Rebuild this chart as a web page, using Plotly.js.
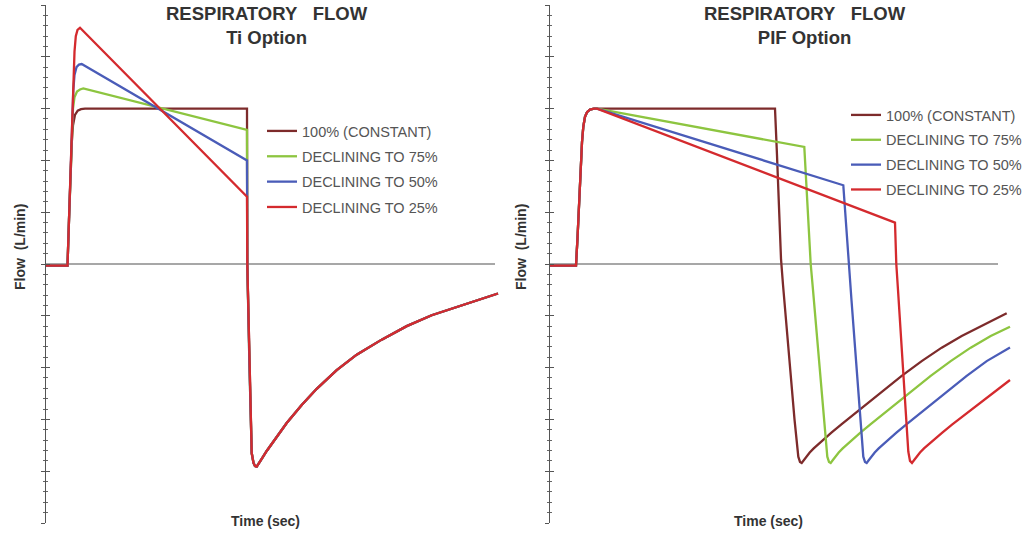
<!DOCTYPE html>
<html>
<head>
<meta charset="utf-8">
<script src="https://cdn.plot.ly/plotly-3.0.1.min.js"></script>
<style>html,body{margin:0;padding:0;background:#fff;}#chart{width:1033px;height:533px;}</style>
</head>
<body>
<div id="chart"></div>
<script>
// ---------- DATA (time in arbitrary sec units, flow in arbitrary L/min units) ----------
const seriesNames = ["100% (CONSTANT)", "DECLINING TO 75%", "DECLINING TO 50%", "DECLINING TO 25%"];
const seriesColors = ["#7d2b2b", "#8dc540", "#4a5cb8", "#d42a2e"];

// Ti Option (left panel): inspiratory parts
const tiConstTime = [0, 0.215, 0.23, 0.245, 0.258, 0.27, 0.29, 0.317, 0.35, 0.39, 2.01];
const tiConstFlow = [-0.03, -0.03, 0.85, 1.75, 2.35, 2.68, 2.88, 2.96, 2.99, 3.0, 3.0];
const ti75Time = [0, 0.215, 0.23, 0.245, 0.258, 0.27, 0.285, 0.31, 0.34, 0.373, 2.01];
const ti75Flow = [-0.03, -0.03, 0.85, 1.8, 2.6, 3.0, 3.22, 3.33, 3.37, 3.39, 2.59];
const ti50Time = [0, 0.215, 0.23, 0.245, 0.26, 0.273, 0.285, 0.305, 0.33, 0.357, 2.01];
const ti50Flow = [-0.03, -0.03, 0.85, 1.8, 2.7, 3.35, 3.65, 3.8, 3.85, 3.86, 2.0];
const ti25Time = [0, 0.215, 0.23, 0.245, 0.26, 0.275, 0.285, 0.298, 0.315, 0.34, 2.01];
const ti25Flow = [-0.03, -0.03, 0.85, 1.8, 2.7, 3.6, 4.1, 4.4, 4.52, 4.56, 1.30];
// Ti Option: shared expiratory part
const tiTailTime = [2.013, 2.035, 2.057, 2.075, 2.09, 2.107, 2.13, 2.157, 2.207, 2.307, 2.407, 2.557, 2.707, 2.907, 3.107, 3.357, 3.607, 3.857, 4.107, 4.357, 4.52];
const tiTailFlow = [0, -2.0, -3.65, -3.84, -3.9, -3.91, -3.85, -3.76, -3.61, -3.33, -3.07, -2.72, -2.41, -2.05, -1.75, -1.46, -1.20, -0.99, -0.83, -0.67, -0.57];

// PIF Option (right panel): shared rise
const pifRiseTime = [0, 0.26, 0.275, 0.29, 0.305, 0.32, 0.333, 0.35, 0.37, 0.40, 0.44, 0.47];
const pifRiseFlow = [-0.03, -0.03, 0.5, 1.15, 1.75, 2.35, 2.65, 2.84, 2.93, 2.98, 3.0, 3.0];
const pifConstTime = [2.25, 2.27, 2.29, 2.31, 2.33, 2.365, 2.405, 2.445, 2.483, 2.50, 2.517, 2.537, 2.562, 2.597, 2.637, 2.717, 2.817, 2.917, 3.117, 3.317, 3.517, 3.717, 3.917, 4.117, 4.317, 4.567];
const pifConstFlow = [3.0, 2.1, 1.1, 0.1, -0.4, -1.2, -2.1, -3.0, -3.72, -3.82, -3.84, -3.79, -3.72, -3.64, -3.56, -3.42, -3.25, -3.09, -2.78, -2.47, -2.16, -1.875, -1.615, -1.39, -1.19, -0.95];
const pif75Time = [2.543, 2.565, 2.587, 2.607, 2.63, 2.665, 2.705, 2.745, 2.773, 2.79, 2.807, 2.827, 2.852, 2.887, 2.927, 3.007, 3.107, 3.207, 3.407, 3.607, 3.807, 4.007, 4.207, 4.407, 4.60];
const pif75Flow = [2.26, 1.5, 0.75, 0, -0.5, -1.3, -2.2, -3.1, -3.72, -3.82, -3.84, -3.79, -3.72, -3.64, -3.56, -3.42, -3.25, -3.09, -2.78, -2.47, -2.16, -1.875, -1.615, -1.39, -1.21];
const pif50Time = [2.933, 2.953, 2.973, 2.988, 3.015, 3.05, 3.085, 3.115, 3.133, 3.15, 3.167, 3.187, 3.212, 3.247, 3.287, 3.367, 3.467, 3.567, 3.767, 3.967, 4.167, 4.367, 4.60];
const pif50Flow = [1.52, 0.95, 0.4, 0, -0.7, -1.6, -2.5, -3.3, -3.72, -3.82, -3.84, -3.79, -3.72, -3.64, -3.56, -3.42, -3.25, -3.09, -2.78, -2.47, -2.16, -1.875, -1.61];
const pif25Time = [3.45, 3.456, 3.463, 3.48, 3.505, 3.53, 3.555, 3.583, 3.60, 3.62, 3.64, 3.665, 3.70, 3.74, 3.82, 3.92, 4.02, 4.22, 4.42, 4.60];
const pif25Flow = [0.80, 0.35, 0, -0.5, -1.25, -2.0, -2.75, -3.62, -3.8, -3.84, -3.79, -3.72, -3.64, -3.56, -3.42, -3.26, -3.10, -2.80, -2.50, -2.24];

const tiZeroEnd = 4.49;
const pifZeroEnd = 4.48;

// ---------- BUILD ----------
const FONT = '"Liberation Sans", Arial, sans-serif';
const tiSets = [[tiConstTime, tiConstFlow], [ti75Time, ti75Flow], [ti50Time, ti50Flow], [ti25Time, ti25Flow]];
const pifSets = [[pifConstTime, pifConstFlow], [pif75Time, pif75Flow], [pif50Time, pif50Flow], [pif25Time, pif25Flow]];

const traces = [];
tiSets.forEach((s, i) => {
  traces.push({
    type: 'scatter', mode: 'lines', name: seriesNames[i],
    x: s[0].concat(tiTailTime), y: s[1].concat(tiTailFlow),
    xaxis: 'x', yaxis: 'y', legend: 'legend', legendgroup: 'a' + i,
    line: {color: seriesColors[i], width: 2.3}, hoverinfo: 'skip'
  });
});
pifSets.forEach((s, i) => {
  traces.push({
    type: 'scatter', mode: 'lines', name: seriesNames[i],
    x: pifRiseTime.concat(s[0]), y: pifRiseFlow.concat(s[1]),
    xaxis: 'x2', yaxis: 'y2', legend: 'legend2', legendgroup: 'b' + i,
    line: {color: seriesColors[i], width: 2.3}, hoverinfo: 'skip'
  });
});
// empty traces to activate overlay tick axes
traces.push({type: 'scatter', x: [], y: [], xaxis: 'x', yaxis: 'y3', showlegend: false});
traces.push({type: 'scatter', x: [], y: [], xaxis: 'x2', yaxis: 'y4', showlegend: false});

const yDom = [10 / 533, 528 / 533];
function yAx(extra) {
  return Object.assign({
    range: [-5, 5], showgrid: false, zeroline: false, showticklabels: false,
    tick0: 0, dtick: 1, ticklen: 4, tickwidth: 1, tickcolor: '#555',
    fixedrange: true
  }, extra);
}
function xAx(extra) {
  return Object.assign({
    showgrid: false, zeroline: false, showticklabels: false, showline: false, ticks: '', fixedrange: true
  }, extra);
}
const layout = {
  width: 1033, height: 533,
  margin: {l: 0, r: 0, t: 0, b: 0},
  paper_bgcolor: '#fff', plot_bgcolor: 'rgba(0,0,0,0)',
  font: {family: FONT, color: '#444'},
  xaxis: xAx({domain: [46 / 1033, 500 / 1033], range: [0, 4.54]}),
  xaxis2: xAx({domain: [550 / 1033, 1012 / 1033], range: [0, 4.62]}),
  yaxis: yAx({domain: yDom, anchor: 'x', showline: true, linecolor: '#555', linewidth: 1.2, ticks: 'outside', minor: {dtick: 0.2, ticklen: 2, tickcolor: '#666', ticks: 'outside'}}),
  yaxis2: yAx({domain: yDom, anchor: 'x2', showline: true, linecolor: '#555', linewidth: 1.2, ticks: 'outside', minor: {dtick: 0.2, ticklen: 2, tickcolor: '#666', ticks: 'outside'}}),
  yaxis3: yAx({overlaying: 'y', anchor: 'x', side: 'left', showline: false, ticks: 'inside', minor: {dtick: 0.2, ticklen: 2, tickcolor: '#666', ticks: 'inside'}}),
  yaxis4: yAx({overlaying: 'y2', anchor: 'x2', side: 'left', showline: false, ticks: 'inside', minor: {dtick: 0.2, ticklen: 2, tickcolor: '#666', ticks: 'inside'}}),
  shapes: [
    {type: 'line', xref: 'x', yref: 'y', x0: 0, x1: tiZeroEnd, y0: 0, y1: 0, layer: 'below', line: {color: '#8a8a8a', width: 1.6}},
    {type: 'line', xref: 'x2', yref: 'y2', x0: 0, x1: pifZeroEnd, y0: 0, y1: 0, layer: 'below', line: {color: '#8a8a8a', width: 1.6}}
  ],
  legend: {
    x: 262 / 1033, y: 1 - 115 / 533, xanchor: 'left', yanchor: 'top',
    bgcolor: 'rgba(0,0,0,0)', font: {family: FONT, size: 14.5, color: '#555'},
    traceorder: 'grouped', tracegroupgap: 3.5, itemclick: false
  },
  legend2: {
    x: 846 / 1033, y: 1 - 99 / 533, xanchor: 'left', yanchor: 'top',
    bgcolor: 'rgba(0,0,0,0)', font: {family: FONT, size: 14.5, color: '#555'},
    traceorder: 'grouped', tracegroupgap: 3, itemclick: false
  },
  annotations: [
    {text: '<b>RESPIRATORY\u00a0\u00a0 FLOW</b><br><b>Ti Option</b>', xref: 'paper', yref: 'paper', x: 267 / 1033, y: 1 - 1.5 / 533, xanchor: 'center', yanchor: 'top', showarrow: false, font: {family: FONT, size: 18.5, color: '#333'}},
    {text: '<b>RESPIRATORY\u00a0\u00a0 FLOW</b><br><b>PIF Option</b>', xref: 'paper', yref: 'paper', x: 805 / 1033, y: 1 - 1.5 / 533, xanchor: 'center', yanchor: 'top', showarrow: false, font: {family: FONT, size: 18.5, color: '#333'}},
    {text: '<b>Time (sec)</b>', xref: 'paper', yref: 'paper', x: 265 / 1033, y: 1 - 521 / 533, xanchor: 'center', yanchor: 'middle', showarrow: false, font: {family: FONT, size: 14, color: '#333'}},
    {text: '<b>Time (sec)</b>', xref: 'paper', yref: 'paper', x: 768 / 1033, y: 1 - 521 / 533, xanchor: 'center', yanchor: 'middle', showarrow: false, font: {family: FONT, size: 14, color: '#333'}},
    {text: '<b>Flow  (L/min)</b>', textangle: -90, xref: 'paper', yref: 'paper', x: 20 / 1033, y: 1 - 247 / 533, xanchor: 'center', yanchor: 'middle', showarrow: false, font: {family: FONT, size: 14, color: '#333'}},
    {text: '<b>Flow  (L/min)</b>', textangle: -90, xref: 'paper', yref: 'paper', x: 521 / 1033, y: 1 - 247 / 533, xanchor: 'center', yanchor: 'middle', showarrow: false, font: {family: FONT, size: 14, color: '#333'}}
  ],
  showlegend: true
};
Plotly.newPlot('chart', traces, layout, {displayModeBar: false, staticPlot: true});
</script>
</body>
</html>
